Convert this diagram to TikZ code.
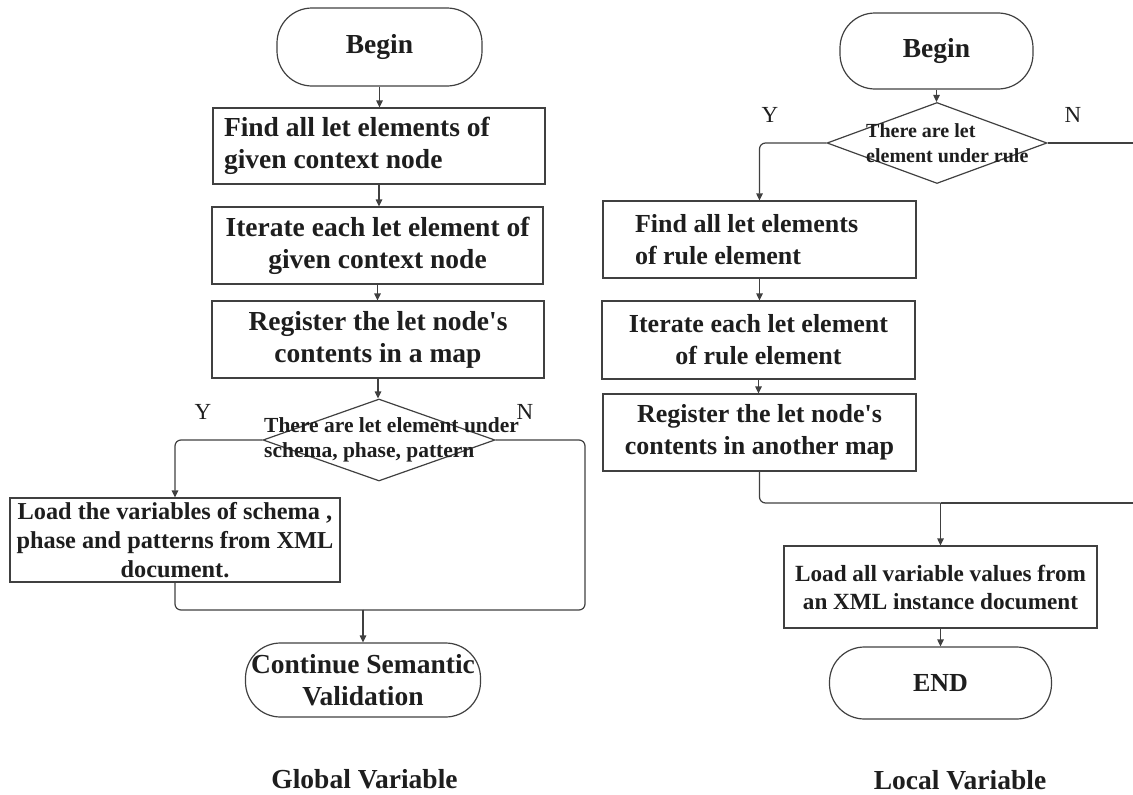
\documentclass[tikz,border=0pt]{standalone}
\usepackage{fontspec}
\defaultfontfeatures{}
\setmainfont{Liberation Serif}[Ligatures=TeXOff]
\usetikzlibrary{arrows.meta,shapes.geometric}
\definecolor{ink}{HTML}{1E1E1E}
\definecolor{edge}{HTML}{404040}
\begin{document}
\begin{tikzpicture}[x=1pt,y=-1pt,
  every node/.style={text=ink},
  bigfont/.style={font=\fontsize{27.5}{32}\selectfont\bfseries},
  midfont/.style={font=\fontsize{26}{32}\selectfont\bfseries},
  term/.style={draw=edge, line width=1.2pt, rectangle, rounded corners=35pt, align=center, inner sep=0pt},
  proc/.style={draw=edge, line width=1.2pt, rectangle, align=center, inner sep=0pt},
  dec/.style={draw=edge, line width=1.2pt, diamond, inner sep=0pt},
  dectext/.style={align=left, inner sep=0pt, anchor=west},
  yn/.style={font=\fontsize{23}{26}\selectfont},
  captext/.style={font=\fontsize{27.5}{30}\selectfont\bfseries},
  conn/.style={draw=edge, line width=1.2pt, rounded corners=6pt},
  arr/.style={conn, -{Triangle[length=7pt,width=6.5pt]}}
]
\useasboundingbox (0,0) rectangle (1133,795);

% ---------------- Left: Global Variable ----------------
\node[term, bigfont, minimum width=205pt, minimum height=78pt] (b1) at (379.5,47) {Begin};
\node[proc, bigfont, minimum width=332pt, minimum height=76pt, text width=310pt, align=flush left, inner xsep=11pt] (l1) at (379,146)
  {Find all let elements of\\given context node};
\node[proc, bigfont, minimum width=331pt, minimum height=77pt] (l2) at (377.5,245.5)
  {Iterate each let element of\\given context node};
\node[proc, bigfont, minimum width=332pt, minimum height=77pt] (l3) at (378,339.5)
  {Register the let node's\\contents in a map};
\node[dec, minimum width=232pt, minimum height=82pt] (d1) at (379,440) {};
\node[dectext, font=\fontsize{21.5}{25}\selectfont\bfseries] (d1t) at (264,440) {There are let element under\\schema, phase, pattern};
\node[proc, font=\fontsize{24.3}{29}\selectfont\bfseries, minimum width=330pt, minimum height=84pt] (l4) at (175,540)
  {Load the variables of schema ,\\phase and patterns from XML\\document.};
\node[term, bigfont, minimum width=235pt, minimum height=74pt] (e1) at (363,680)
  {Continue Semantic\\Validation};
\node[yn] (y1) at (203,412) {Y};
\node[yn] (n1) at (525,412) {N};
\node[captext] (g1) at (364.5,779) {Global Variable};

\coordinate (m1) at (363,610);
\coordinate (c1) at (585,610);

\draw[arr] (b1.south) -- (b1.south |- l1.north);
\draw[arr] (l1.south) -- (l1.south |- l2.north);
\draw[arr] (l2.south) -- (l2.south |- l3.north);
\draw[arr] (l3.south) -- (l3.south |- d1.north);
\draw[arr] (d1.west) -| (l4.north);
\draw[conn] (l4.south) |- (m1);
\draw[conn] (d1.east) -| (c1) -- (m1);
\draw[arr] (m1) -- (e1.north);

% ---------------- Right: Local Variable ----------------
\node[term, bigfont, minimum width=193pt, minimum height=76pt] (b2) at (936.5,51) {Begin};
\node[dec, minimum width=220pt, minimum height=81pt] (d2) at (937,143) {};
\node[dectext, font=\fontsize{20}{25}\selectfont\bfseries] (d2t) at (866,143) {There are let\\element under rule};
\node[proc, midfont, minimum width=313pt, minimum height=77pt, text width=249pt, align=flush left, inner xsep=32pt] (r1) at (759.5,239.5)
  {Find all let elements\\of rule element};
\node[proc, midfont, minimum width=313pt, minimum height=78pt] (r2) at (758.5,340)
  {Iterate each let element\\of rule element};
\node[proc, midfont, minimum width=313pt, minimum height=77pt] (r3) at (759.5,432.5)
  {Register the let node's\\contents in another map};
\node[proc, font=\fontsize{23.2}{28}\selectfont\bfseries, minimum width=313pt, minimum height=82pt] (r4) at (940.5,587)
  {Load all variable values from\\an XML instance document};
\node[term, midfont, minimum width=222pt, minimum height=72pt] (e2) at (940.5,683) {END};
\node[yn] (y2) at (770,115) {Y};
\node[yn] (n2) at (1073,115) {N};
\node[captext] (g2) at (960,780) {Local Variable};

\coordinate (m2) at (940.5,503);
\coordinate (x1) at (1133,143);
\coordinate (x2) at (1133,503);

\draw[arr] (b2.south) -- (b2.south |- d2.north);
\draw[arr] (d2.west) -| (r1.north);
\draw[conn] (d2.east) -- (x1);
\draw[arr] (r1.south) -- (r1.south |- r2.north);
\draw[arr] (r2.south) -- (r2.south |- r3.north);
\draw[conn] (r3.south) |- (m2);
\draw[conn] (x2) -- (m2);
\draw[arr] (m2) -- (r4.north);
\draw[arr] (r4.south) -- (e2.north);
\end{tikzpicture}
\end{document}
